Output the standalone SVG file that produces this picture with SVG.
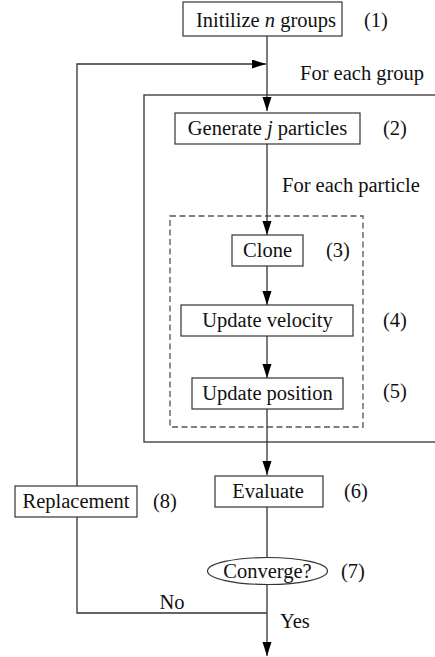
<svg xmlns="http://www.w3.org/2000/svg" width="435" height="657" viewBox="0 0 435 657">
<style>
  text { font-family: "Liberation Serif", "Times New Roman", "DejaVu Serif", serif; font-size: 20.5px; fill: #111; }
  .c { text-anchor: middle; }
  .box { fill: #fff; stroke: #333; stroke-width: 1.2; }
  .line { fill: none; stroke: #333; stroke-width: 1.3; }
  .frame { fill: none; stroke: #333; stroke-width: 1.3; }
  .dash { fill: none; stroke: #555; stroke-width: 1.3; stroke-dasharray: 6 3.5; }
</style>
<defs>
  <marker id="arr" markerUnits="userSpaceOnUse" markerWidth="14" markerHeight="10" refX="14" refY="4.5" orient="auto">
    <path d="M0,0 L14,4.5 L0,9 z" fill="#000"/>
  </marker>
</defs>
<rect width="435" height="657" fill="#fff"/>

<g id="frames">
  <rect class="frame" x="144" y="95" width="300" height="347"/>
  <rect class="dash" x="170" y="216" width="193" height="211"/>
</g>

<g id="connectors">
  <line class="line" x1="267" y1="36" x2="267" y2="111" marker-end="url(#arr)"/>
  <polyline class="line" points="77,486 77,64 266,64" marker-end="url(#arr)"/>
  <line class="line" x1="267" y1="144" x2="267" y2="235" marker-end="url(#arr)"/>
  <line class="line" x1="267" y1="266" x2="267" y2="305" marker-end="url(#arr)"/>
  <line class="line" x1="267" y1="336" x2="267" y2="378" marker-end="url(#arr)"/>
  <line class="line" x1="267" y1="409" x2="267" y2="475" marker-end="url(#arr)"/>
  <line class="line" x1="267" y1="507" x2="267" y2="557"/>
  <line class="line" x1="267" y1="584" x2="267" y2="656" marker-end="url(#arr)"/>
  <polyline class="line" points="267,613 77,613 77,517"/>
  <text x="300" y="80">For each group</text>
  <text x="282" y="192">For each particle</text>
  <text class="c" x="172" y="609">No</text>
  <text x="280" y="628">Yes</text>
</g>

<g id="n1">
  <rect class="box" x="183" y="2" width="159" height="34"/>
  <text class="c" x="266" y="27">Initilize <tspan font-style="italic">n</tspan> groups</text>
  <text class="c" x="376" y="27">(1)</text>
</g>
<g id="n2">
  <rect class="box" x="175" y="113" width="185" height="31"/>
  <text class="c" x="267.5" y="135">Generate <tspan font-style="italic">j</tspan> particles</text>
  <text class="c" x="395" y="135">(2)</text>
</g>
<g id="n3">
  <rect class="box" x="232" y="235" width="71" height="31"/>
  <text class="c" x="267.5" y="257">Clone</text>
  <text class="c" x="338" y="257">(3)</text>
</g>
<g id="n4">
  <rect class="box" x="181" y="305" width="172" height="31"/>
  <text class="c" x="267.5" y="327">Update velocity</text>
  <text class="c" x="395" y="327">(4)</text>
</g>
<g id="n5">
  <rect class="box" x="192" y="378" width="151" height="31"/>
  <text class="c" x="267.5" y="400">Update position</text>
  <text class="c" x="395" y="398">(5)</text>
</g>
<g id="n6">
  <rect class="box" x="215" y="476" width="108" height="31"/>
  <text class="c" x="268" y="498">Evaluate</text>
  <text class="c" x="356" y="498">(6)</text>
</g>
<g id="n7">
  <ellipse class="box" cx="267.5" cy="571" rx="60" ry="13.5"/>
  <text class="c" x="267.5" y="578">Converge?</text>
  <text class="c" x="353" y="578">(7)</text>
</g>
<g id="n8">
  <rect class="box" x="15" y="486" width="122" height="31"/>
  <text class="c" x="76" y="508">Replacement</text>
  <text class="c" x="165" y="508">(8)</text>
</g>
</svg>
